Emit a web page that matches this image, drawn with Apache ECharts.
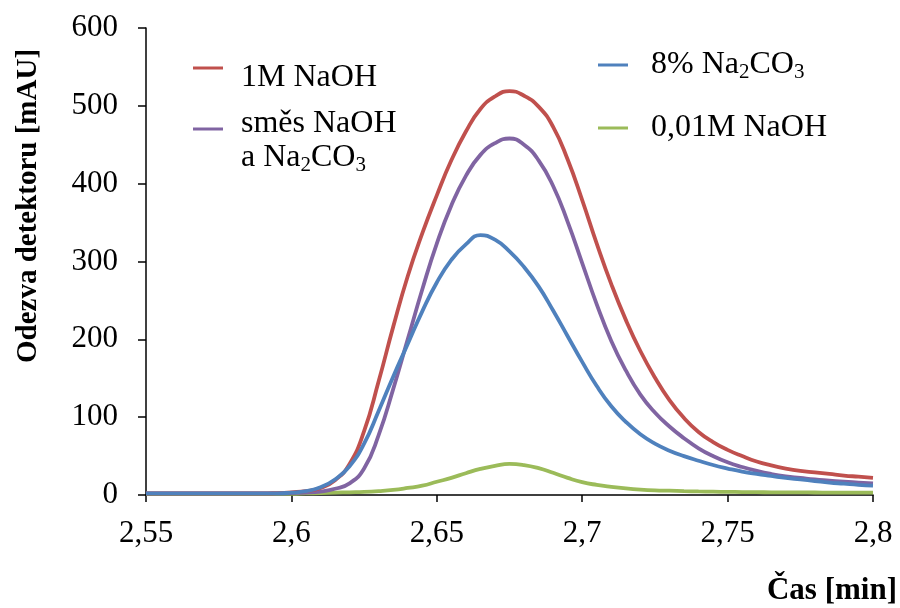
<!DOCTYPE html>
<html>
<head>
<meta charset="utf-8">
<script src="https://cdn.jsdelivr.net/npm/echarts@6/dist/echarts.min.js"></script>
<style>
  html, body { margin: 0; padding: 0; background: #fff; }
  #chart { width: 900px; height: 608px; }
</style>
</head>
<body>
<div id="chart"></div>
<script>
// Retention time [min]
const times = [
  2.55, 2.555, 2.56, 2.565, 2.57, 2.575, 2.58, 2.585, 2.59, 2.595,
  2.6, 2.605, 2.61, 2.615, 2.62, 2.625, 2.63, 2.635, 2.64, 2.645,
  2.65, 2.655, 2.66, 2.665, 2.67, 2.675, 2.68, 2.685, 2.69, 2.695,
  2.7, 2.705, 2.71, 2.715, 2.72, 2.725, 2.73, 2.735, 2.74, 2.745,
  2.75, 2.755, 2.76, 2.765, 2.77, 2.775, 2.78, 2.785, 2.79, 2.795, 2.8
];

// Detector response [mAU]
const naoh1M = [
  2, 2, 2, 2, 2, 2, 2, 2, 2, 2.5,
  3.5, 5, 9, 19, 40, 82, 146, 216, 281, 336,
  385, 430, 467, 496, 512, 519, 513, 499, 473, 431,
  379, 323, 271, 225, 185, 151, 122, 99, 81, 68,
  58, 50, 43, 38, 34, 31, 29, 27, 25, 23.5, 22
];
const mixture = [
  2, 2, 2, 2, 2, 2, 2, 2, 2, 2,
  2.5, 3, 4.5, 8, 15, 34, 77, 136, 200, 264,
  323, 372, 410, 437, 452, 458, 450, 430, 397, 351,
  298, 245, 198, 160, 129, 106, 88, 73, 60, 50,
  42, 36, 31, 27, 24, 22, 20, 18.5, 17, 16, 15
];
const carbonate8 = [
  2, 2, 2, 2, 2, 2, 2, 2, 2, 2,
  3, 5, 10, 20, 37, 66, 108, 152, 194, 236,
  273, 302, 322, 334, 328, 313, 293, 268, 237, 204,
  171, 140, 114, 94, 78, 66, 57, 50, 44, 38.5,
  34, 30, 27, 24.5, 22, 20, 18, 16, 14.5, 13, 12
];
const naoh001M = [
  1.5, 1.5, 1.5, 1.5, 1.5, 1.5, 1.5, 1.5, 1.5, 1.5,
  1.5, 2, 2.5, 3, 3.5, 4, 5, 6.5, 9, 12,
  17, 22, 28, 33.5, 37.5, 40, 38.5, 34.5, 28.5, 22,
  16.5, 13, 10.5, 8.5, 7, 6, 5.5, 5, 4.6, 4.3,
  4, 3.8, 3.6, 3.5, 3.4, 3.3, 3.2, 3.1, 3, 3, 3
];

const seriesNames = ['1M NaOH', 'směs NaOH a Na2CO3', '8% Na2CO3', '0,01M NaOH'];
const seriesValues = [naoh1M, mixture, carbonate8, naoh001M];
const seriesColors = ['#C0504D', '#8064A2', '#4F81BD', '#9BBB59'];

const FONT = '"Liberation Serif", "Times New Roman", serif';
const TICK_FS = 31;
const LEGEND_FS = 32;

function pairs(values) {
  return times.map((t, i) => [t, values[i]]);
}

// Chemical formulas with subscript digits in the legend
function legendLabel(name) {
  return name
    .replace(' a ', '\na ')
    .replace('Na2CO3', 'Na{s|2}CO{s|3}');
}

const legendText = (padTop, padLeft) => ({
  fontFamily: FONT,
  fontSize: LEGEND_FS,
  color: '#000',
  lineHeight: 34,
  padding: [padTop, 0, 0, padLeft],
  rich: {
    s: { fontFamily: FONT, fontSize: 21, color: '#000', padding: [14, 0, 0, 0] }
  }
});

const legendBase = {
  orient: 'vertical',
  padding: 0,
  icon: 'rect',
  itemWidth: 30,
  itemHeight: 3,
  selectedMode: false,
  formatter: legendLabel
};

const chart = echarts.init(document.getElementById('chart'), null, { renderer: 'canvas' });

chart.setOption({
  animation: false,
  backgroundColor: '#fff',
  grid: { left: 146, right: 27, top: 28, bottom: 113 },
  legend: [
    Object.assign({}, legendBase, { data: [seriesNames[0]], left: 193, top: 41, textStyle: legendText(20, 13) }),
    Object.assign({}, legendBase, { data: [seriesNames[1]], left: 193, top: 83, textStyle: legendText(24, 13) }),
    Object.assign({}, legendBase, { data: [seriesNames[2]], left: 598, top: 48, textStyle: legendText(0, 18) }),
    Object.assign({}, legendBase, { data: [seriesNames[3]], left: 598, top: 111, textStyle: legendText(0, 18) })
  ],
  xAxis: {
    type: 'value',
    min: 2.55,
    max: 2.8,
    interval: 0.05,
    splitLine: { show: false },
    axisLine: { lineStyle: { color: '#000', width: 1.5 } },
    axisTick: { length: 7, lineStyle: { color: '#000', width: 1.5 } },
    axisLabel: {
      margin: 23,
      fontFamily: FONT,
      fontSize: TICK_FS,
      color: '#000',
      formatter: v => String(+v.toFixed(2)).replace('.', ',')
    }
  },
  yAxis: {
    type: 'value',
    min: 0,
    max: 600,
    interval: 100,
    splitLine: { show: false },
    axisLine: { show: true, lineStyle: { color: '#000', width: 1.5 } },
    axisTick: { show: true, length: 8, lineStyle: { color: '#000', width: 1.5 } },
    axisLabel: {
      margin: 28,
      fontFamily: FONT,
      fontSize: TICK_FS,
      color: '#000'
    }
  },
  graphic: [
    {
      type: 'text',
      x: 29,
      y: 206,
      rotation: Math.PI / 2,
      style: {
        text: 'Odezva detektoru [mAU]',
        font: 'bold 29px ' + FONT,
        fill: '#000',
        align: 'center',
        verticalAlign: 'middle'
      }
    },
    {
      type: 'text',
      x: 897,
      y: 591,
      style: {
        text: 'Čas [min]',
        font: 'bold 31px ' + FONT,
        fill: '#000',
        align: 'right',
        verticalAlign: 'middle'
      }
    }
  ],
  series: seriesNames.map((name, k) => ({
    name: name,
    type: 'line',
    data: pairs(seriesValues[k]),
    smooth: 0.5,
    showSymbol: false,
    symbol: 'none',
    color: seriesColors[k],
    lineStyle: { color: seriesColors[k], width: 3.8 },
    z: [4, 3, 5, 2][k]
  }))
});
</script>
</body>
</html>
